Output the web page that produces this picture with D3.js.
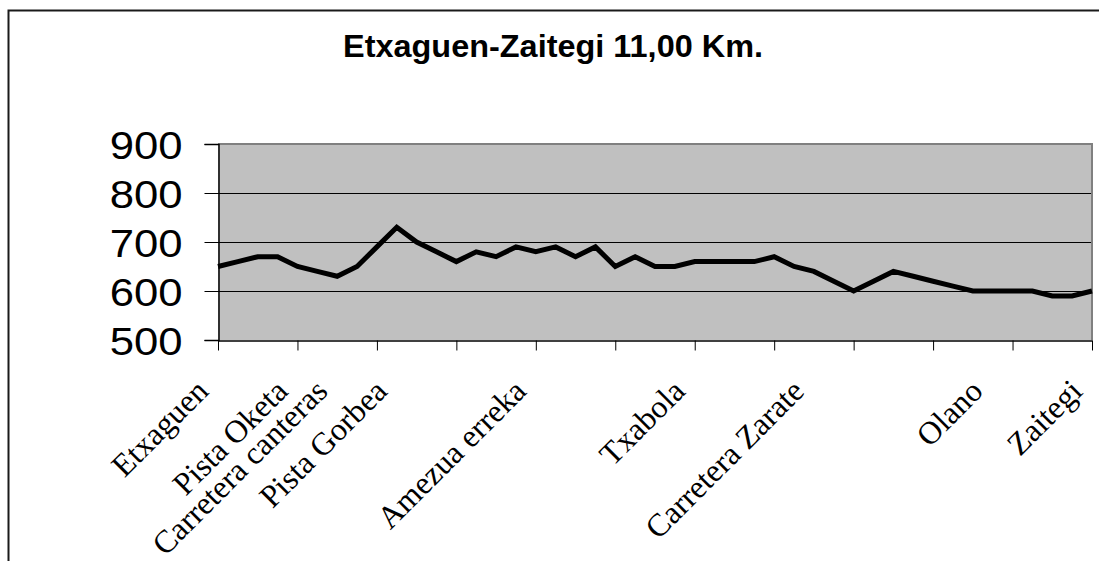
<!DOCTYPE html>
<html>
<head>
<meta charset="utf-8">
<script src="https://d3js.org/d3.v7.min.js"></script>
<style>
  html, body { margin: 0; padding: 0; background: #fff; }
  svg { display: block; }
</style>
</head>
<body>
<svg id="chart" width="1099" height="561"></svg>
<script>
// ---- data ----
const title = "Etxaguen-Zaitegi 11,00 Km.";
const elevations = [650,660,670,670,650,640,630,650,690,730,700,680,660,680,670,690,680,690,670,690,650,670,650,650,660,660,660,660,670,650,640,620,600,620,640,630,620,610,600,600,600,600,590,590,600];
const labelIndices = [0, 4, 6, 9, 16, 24, 30, 39, 44];
const labelNames = ["Etxaguen", "Pista Oketa", "Carretera canteras", "Pista Gorbea", "Amezua erreka", "Txabola", "Carretera Zarate", "Olano", "Zaitegi"];
const yTicks = [500, 600, 700, 800, 900];
const tickEvery = 4;

(function () {
  const svg = d3.select("#chart");
  const W = 1099, H = 561;
  const pL = 218, pR = 1092, pT = 144, pB = 340;
  const sx = 1.12; // horizontal stretch of the original rendering

  svg.append("rect").attr("width", W).attr("height", H).attr("fill", "#fff");

  // outer chart border (only top and left are visible)
  svg.append("rect")
    .attr("x", 8.5).attr("y", 10.5).attr("width", 1300).attr("height", 800)
    .attr("fill", "none").attr("stroke", "#1a1a1a").attr("stroke-width", 2);

  const idx = d3.range(elevations.length);
  const x = d3.scalePoint().domain(idx).range([pL, pR]);
  const y = d3.scaleLinear().domain([500, 900]).range([pB, pT]);

  // plot area
  svg.append("rect")
    .attr("x", pL).attr("y", pT).attr("width", pR - pL).attr("height", pB - pT)
    .attr("fill", "#c0c0c0");

  // gridlines
  svg.append("g").selectAll("line")
    .data(yTicks.filter(d => d > 500 && d < 900))
    .join("line")
    .attr("x1", pL).attr("x2", pR)
    .attr("y1", d => Math.round(y(d)) + 0.5).attr("y2", d => Math.round(y(d)) + 0.5)
    .attr("stroke", "#000").attr("stroke-width", 1);

  // plot border top/right (gray)
  svg.append("path")
    .attr("d", `M${pL},${pT} H${pR} V${pB}`)
    .attr("fill", "none").attr("stroke", "#808080").attr("stroke-width", 2);

  // y axis
  const yAxis = d3.axisLeft(y).tickValues(yTicks).tickSize(14).tickFormat(d3.format("d"));
  const gy = svg.append("g").attr("transform", `translate(${pL + 0.5},0)`).call(yAxis);
  gy.select(".domain").attr("stroke", "#000").attr("stroke-width", 1.5);
  gy.selectAll(".tick line").attr("stroke", "#000");
  gy.selectAll(".tick text")
    .attr("x", null).attr("dy", null)
    .attr("font-family", "Arial, 'Liberation Sans', sans-serif")
    .attr("font-size", 39).attr("fill", "#000")
    .attr("text-anchor", "end")
    .attr("transform", `translate(-36,14) scale(${sx},1)`);

  // x axis (ticks every 4 categories)
  const xAxis = d3.axisBottom(x)
    .tickValues(idx.filter(i => i % tickEvery === 0))
    .tickSize(10).tickSizeOuter(0).tickFormat("");
  const gx = svg.append("g").attr("transform", `translate(0,${pB + 0.5})`).call(xAxis);
  gx.select(".domain").attr("stroke", "#000").attr("stroke-width", 1.5);
  gx.selectAll(".tick line").attr("stroke", "#000");

  // category labels
  svg.append("g").selectAll("text")
    .data(labelIndices)
    .join("text")
    .attr("transform", d => `translate(${x(d) - 8},393) rotate(-45)`)
    .attr("text-anchor", "end")
    .attr("font-family", "'Times New Roman', 'Liberation Serif', serif")
    .attr("font-size", 32)
    .attr("fill", "#000")
    .text((d, i) => labelNames[i]);

  // elevation line
  const line = d3.line().x((d, i) => x(i)).y(d => y(d));
  svg.append("path")
    .datum(elevations)
    .attr("d", line)
    .attr("fill", "none").attr("stroke", "#000")
    .attr("stroke-width", 5).attr("stroke-linejoin", "miter");

  // title
  svg.append("text")
    .attr("x", 553).attr("y", 57)
    .attr("text-anchor", "middle")
    .attr("font-family", "Arial, 'Liberation Sans', sans-serif")
    .attr("font-weight", "bold").attr("font-size", 31)
    .attr("textLength", 420).attr("lengthAdjust", "spacingAndGlyphs")
    .attr("fill", "#000")
    .text(title);
})();
</script>
</body>
</html>
